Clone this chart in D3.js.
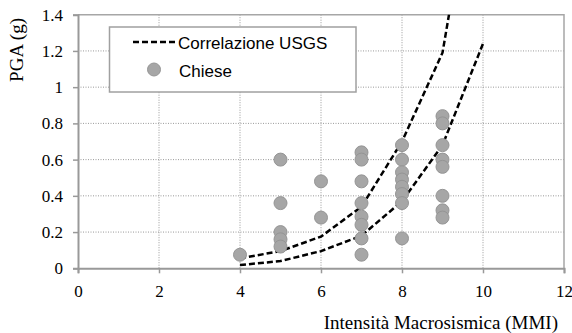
<!DOCTYPE html>
<html>
<head>
<meta charset="utf-8">
<script src="https://cdn.jsdelivr.net/npm/d3@7"></script>
<style>
  body { margin: 0; background: #fff; }
  svg { display: block; }
  .serif { font-family: "Liberation Serif", "Times New Roman", serif; }
</style>
</head>
<body>
<div id="chart"></div>
<script>
// USGS correlation, two bounding curves (PGA in g per MMI)
var usgsMMI = [4, 5, 6, 7, 8, 9, 10]
var usgsUpper = [0.055, 0.095, 0.175, 0.34, 0.70, 1.19, 2.5]
var usgsLower = [0.018, 0.04, 0.095, 0.18, 0.37, 0.68, 1.24]

// observed churches (Chiese)
var chieseMMI = [4,
  5, 5, 5, 5, 5,
  6, 6,
  7, 7, 7, 7, 7, 7, 7, 7,
  8, 8, 8, 8, 8, 8, 8, 8,
  9, 9, 9, 9, 9, 9, 9, 9]
var chiesePGA = [0.075,
  0.60, 0.36, 0.20, 0.16, 0.12,
  0.48, 0.28,
  0.64, 0.60, 0.48, 0.36, 0.285, 0.24, 0.165, 0.075,
  0.68, 0.60, 0.53, 0.49, 0.45, 0.41, 0.36, 0.165,
  0.84, 0.80, 0.68, 0.60, 0.56, 0.40, 0.32, 0.28]

var xTicks = [0, 2, 4, 6, 8, 10, 12]
var yTicks = [0, 0.2, 0.4, 0.6, 0.8, 1, 1.2, 1.4]

var W = 572, H = 333
var plotL = 78, plotR = 564, plotT = 14.7, plotB = 268.3

var svg = d3.select("#chart").append("svg")
  .attr("width", W).attr("height", H)

var x = d3.scaleLinear().domain([0, 12]).range([plotL, plotR])
var y = d3.scaleLinear().domain([0, 1.4]).range([plotB, plotT])

var sans = "'Liberation Sans', Arial, sans-serif"

svg.append("defs").append("clipPath").attr("id", "plot")
  .append("rect")
  .attr("x", plotL).attr("y", plotT)
  .attr("width", plotR - plotL).attr("height", plotB - plotT)

// dotted grid
var grid = svg.append("g")
grid.selectAll(".gx").data(xTicks.slice(1, -1)).enter().append("line")
  .attr("x1", d => x(d)).attr("x2", d => x(d))
  .attr("y1", plotT).attr("y2", plotB)
grid.selectAll(".gy").data(yTicks.slice(1, -1)).enter().append("line")
  .attr("y1", d => y(d)).attr("y2", d => y(d))
  .attr("x1", plotL).attr("x2", plotR)
grid.selectAll("line")
  .attr("stroke", "#999").attr("stroke-width", 1)
  .attr("stroke-dasharray", "1,1.5")

// plot frame top and right
svg.append("path")
  .attr("d", "M" + plotL + "," + plotT + "H" + plotR + "V" + plotB)
  .attr("fill", "none").attr("stroke", "#a6a6a6").attr("stroke-width", 1.5)

// axes
var xAxis = d3.axisBottom(x).tickValues(xTicks).tickSize(5).tickPadding(12)
  .tickFormat(d3.format("~g"))
var yAxis = d3.axisLeft(y).tickValues(yTicks).tickSize(5).tickPadding(10)
  .tickFormat(d3.format("~g"))

var gx = svg.append("g").attr("transform", "translate(0," + plotB + ")").call(xAxis)
var gy = svg.append("g").attr("transform", "translate(" + plotL + ",0)").call(yAxis)
;[gx, gy].forEach(function (g) {
  g.attr("font-family", null).attr("font-size", null)
  g.select(".domain").attr("stroke", "#999").attr("stroke-width", 2)
  g.selectAll(".tick line").attr("stroke", "#999").attr("stroke-width", 1.5)
  g.selectAll(".tick text").attr("fill", "#000")
    .attr("class", "serif").style("font-size", "17px")
})

// curves
var line = d3.line()
  .x(d => x(d[0])).y(d => y(d[1]))
var curves = svg.append("g").attr("clip-path", "url(#plot)")
;[usgsUpper, usgsLower].forEach(function (vals) {
  curves.append("path")
    .datum(usgsMMI.map((m, i) => [m, vals[i]]))
    .attr("d", line)
    .attr("fill", "none").attr("stroke", "#000")
    .attr("stroke-width", 2.5).attr("stroke-dasharray", "6,3")
})

// points
svg.append("g").selectAll("circle")
  .data(chieseMMI.map((m, i) => [m, chiesePGA[i]]))
  .enter().append("circle")
  .attr("cx", d => x(d[0])).attr("cy", d => y(d[1]))
  .attr("r", 6.5)
  .attr("fill", "#a6a6a6").attr("stroke", "#959595").attr("stroke-width", 1)

// axis titles
svg.append("text")
  .attr("class", "serif")
  .attr("x", 558).attr("y", 329)
  .attr("text-anchor", "end")
  .style("font-size", "19px")
  .text("Intensità Macrosismica (MMI)")

svg.append("text")
  .attr("class", "serif")
  .attr("transform", "translate(23,18) rotate(-90)")
  .attr("text-anchor", "end")
  .style("font-size", "19px")
  .text("PGA (g)")

// legend
var lg = svg.append("g")
lg.append("rect")
  .attr("x", 109.5).attr("y", 27)
  .attr("width", 246.5).attr("height", 65)
  .attr("fill", "#fff").attr("stroke", "#a0a0a0").attr("stroke-width", 1.5)
lg.append("line")
  .attr("x1", 133).attr("x2", 176).attr("y1", 42).attr("y2", 42)
  .attr("stroke", "#000").attr("stroke-width", 2.5).attr("stroke-dasharray", "6,3")
lg.append("circle")
  .attr("cx", 154).attr("cy", 69.5).attr("r", 6.5)
  .attr("fill", "#a6a6a6").attr("stroke", "#959595")
lg.append("text").attr("x", 178).attr("y", 48.5).text("Correlazione USGS")
lg.append("text").attr("x", 179).attr("y", 76.5).text("Chiese")
lg.selectAll("text").attr("font-family", sans).attr("font-size", 17)
</script>
</body>
</html>
